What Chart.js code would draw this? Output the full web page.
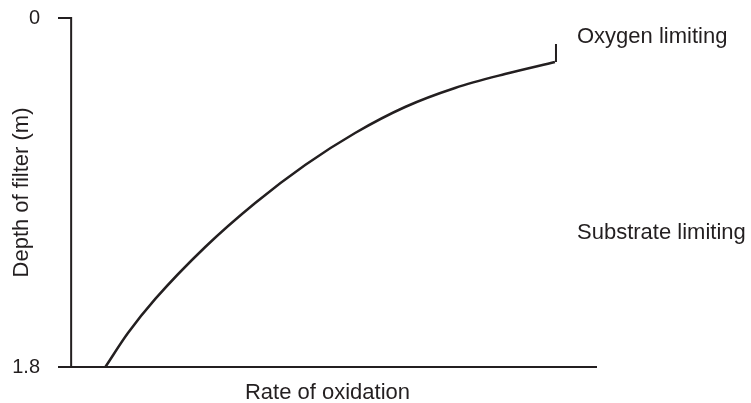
<!DOCTYPE html>
<html>
<head>
<meta charset="utf-8">
<script src="https://cdn.jsdelivr.net/npm/chart.js@4"></script>
<style>
  html, body { margin: 0; padding: 0; background: #fff; }
  #wrap { width: 751px; height: 403px; }
</style>
</head>
<body>
<div id="wrap"><canvas id="chart"></canvas></div>
<script>
// Data (rate in arbitrary units, depth in m)
var rate  = [0.65, 1.08, 1.60, 2.55, 3.50, 4.45, 5.40, 6.35, 7.30, 8.25, 9.20]
var depth = [1.80, 1.625, 1.449, 1.181, 0.954, 0.758, 0.593, 0.459, 0.361, 0.289, 0.227]
var markRate  = [9.22, 9.22]
var markDepth = [0.134, 0.227]
var depthTicks = [0, 1.8]
var noteLabels = ['Oxygen limiting', 'Substrate limiting']
var noteDepths = [0.098, 1.109]

var ink = '#231f20'
var fontFamily = '"Liberation Sans", Arial, Helvetica, sans-serif'

var axesPlugin = {
    id: 'axesLines',
    afterDatasetsDraw(chart) {
        var ctx = chart.ctx
        var area = chart.chartArea
        var x = chart.scales.x, y = chart.scales.y
        var x0 = x.getPixelForValue(0)
        var yTop = y.getPixelForValue(depthTicks[0])
        var yBot = y.getPixelForValue(depthTicks[1])
        ctx.save()
        ctx.strokeStyle = ink
        ctx.lineWidth = 2
        ctx.beginPath()
        ctx.moveTo(area.left, yTop)
        ctx.lineTo(x0, yTop)
        ctx.lineTo(x0, yBot)
        ctx.moveTo(area.left, yBot)
        ctx.lineTo(area.right, yBot)
        ctx.stroke()
        // side notes
        ctx.fillStyle = ink
        ctx.font = '22px ' + fontFamily
        ctx.textAlign = 'left'
        ctx.textBaseline = 'middle'
        for (let i = 0; i < noteLabels.length; i++) {
            ctx.fillText(noteLabels[i], area.right - 20, y.getPixelForValue(noteDepths[i]))
        }
        ctx.restore()
    }
}

var points = rate.map((r, i) => ({x: r, y: depth[i]}))
var mark = markRate.map((r, i) => ({x: r, y: markDepth[i]}))

var ctx = document.getElementById('chart').getContext('2d')
var myChart = new Chart(ctx, {
    type: 'line',
    data: {
        datasets: [{
            data: points,
            borderColor: ink,
            borderWidth: 2.5,
            pointRadius: 0,
            cubicInterpolationMode: 'monotone',
            fill: false
        }, {
            data: mark,
            borderColor: ink,
            borderWidth: 2,
            pointRadius: 0,
            fill: false
        }]
    },
    plugins: [axesPlugin],
    options: {
        responsive: true,
        maintainAspectRatio: false,
        animation: false,
        layout: { padding: { top: 18, right: 154, left: 0, bottom: 0 } },
        plugins: {
            legend: { display: false },
            tooltip: { enabled: false }
        },
        scales: {
            x: {
                type: 'linear',
                min: -0.25,
                max: 10,
                grid: { display: false, drawTicks: false },
                border: { display: false },
                ticks: { display: false },
                title: {
                    display: true,
                    text: 'Rate of oxidation',
                    color: ink,
                    font: { family: fontFamily, size: 22 },
                    padding: { top: 0, bottom: -3 }
                },
                afterFit(scale) { scale.height = 36 }
            },
            y: {
                type: 'linear',
                reverse: true,
                min: 0,
                max: 1.8,
                grid: { display: false, drawTicks: false },
                border: { display: false },
                afterBuildTicks(scale) { scale.ticks = depthTicks.map(v => ({value: v})) },
                ticks: {
                    color: ink,
                    padding: 18,
                    font: { family: fontFamily, size: 20 },
                    callback: v => String(v)
                },
                title: {
                    display: true,
                    text: 'Depth of filter (m)',
                    color: ink,
                    font: { family: fontFamily, size: 22 },
                    padding: { top: 9, bottom: 0 }
                },
                afterFit(scale) {
                    scale.width = 58
                    scale.paddingTop = 0
                    scale.paddingBottom = 0
                }
            }
        }
    }
});
</script>
</body>
</html>
